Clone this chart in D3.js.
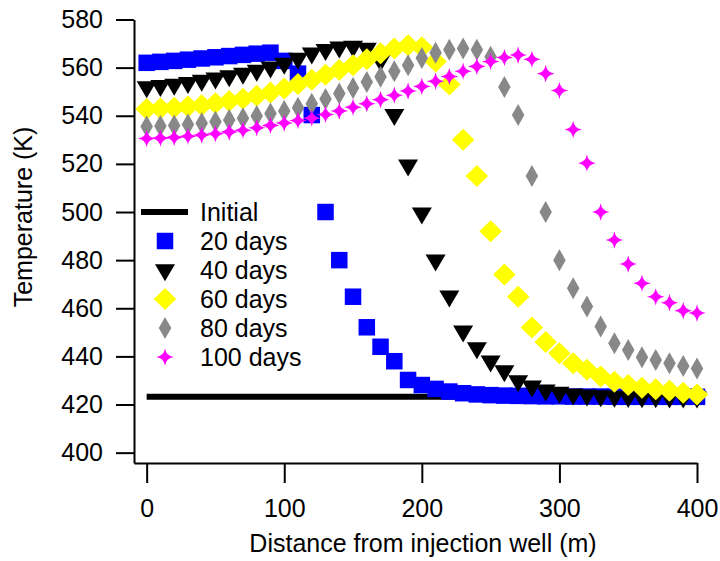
<!DOCTYPE html>
<html>
<head>
<meta charset="utf-8">
<script src="https://cdn.jsdelivr.net/npm/d3@7"></script>
<style>
  html, body { margin: 0; padding: 0; background: #fff; }
  svg { display: block; font-family: "Liberation Sans", Arial, sans-serif; }
</style>
</head>
<body>
<svg id="chart" width="720" height="561"></svg>
<script>
// Distance from the injection well (m)
const distance = [0, 10, 20, 30, 40, 50, 60, 70, 80, 90, 100, 110, 120, 130, 140, 150, 160, 170, 180, 190, 200,
  210, 220, 230, 240, 250, 260, 270, 280, 290, 300, 310, 320, 330, 340, 350, 360, 370, 380, 390, 400];

// Initial reservoir temperature (K)
const initialTemp = 423.2;

// Temperature profiles (K) after each injection period
const temp20 = [562, 562.4, 562.8, 563.3, 563.8, 564.3, 564.8, 565.3, 565.8, 566.2, 562.8, 557.5, 540.3, 500, 480,
  464.8, 452.1, 444, 438, 430.2, 428.1, 426.5, 425.4, 424.7, 424.2, 423.9, 423.7, 423.6, 423.5, 423.4, 423.4,
  423.3, 423.3, 423.3, 423.2, 423.2, 423.2, 423.2, 423.2, 423.2, 423.2];
const temp40 = [552, 552.5, 553, 553.8, 554.7, 555.6, 556.6, 557.6, 558.8, 560.2, 561.8, 563.8, 566, 567.5, 568.5,
  568.8, 568, 563, 540.5, 519.5, 499.5, 480, 465, 450.5, 443.5, 438, 434, 429.8, 427.6, 426, 425,
  424.3, 423.9, 423.6, 423.4, 423.3, 423.2, 423.2, 423.1, 423.1, 423.1];
const temp60 = [542.8, 543, 543.3, 543.8, 544.4, 545.2, 546.1, 547.1, 548.3, 549.7, 551.3, 553.2, 555, 557, 559,
  561, 563.5, 566, 568, 569.3, 568.5, 562.5, 553, 530, 515, 492, 474, 464.8, 452, 446, 441.3,
  437.1, 434.4, 431.6, 429.5, 428.1, 427, 426.3, 425.7, 424.9, 424.2];
const temp80 = [535.5, 535.7, 536, 536.4, 536.9, 537.5, 538.2, 539, 539.9, 540.9, 542, 543.3, 545, 547, 549.2,
  551.5, 554, 556.2, 558.5, 561, 564, 566.2, 567.4, 568, 567.4, 564.5, 552, 540.3, 515, 500, 480,
  468.3, 460.7, 452.4, 445.5, 442.7, 439.6, 438.5, 437.1, 436, 435];
const temp100 = [530.5, 530.7, 531, 531.5, 532, 532.5, 533.3, 534, 535, 536, 537, 538, 539, 540.5, 542,
  543.5, 545, 546.7, 548.5, 550.3, 552.2, 554.3, 556.3, 558.5, 560.5, 562.5, 564.2, 565.2, 563.5, 557.5, 550.5,
  534.3, 520.3, 500, 488.4, 478.4, 470.4, 464.8, 462.3, 459, 458];

const xTicks = [0, 100, 200, 300, 400];
const yTicks = [400, 420, 440, 460, 480, 500, 520, 540, 560, 580];

const legendLabels = ["Initial", "20 days", "40 days", "60 days", "80 days", "100 days"];

// Marker shapes, each centred on the data point
function squarePath(s) {
  const h = s / 2;
  return `M${-h},${-h}H${h}V${h}H${-h}Z`;
}
function triangleDownPath(w, h) {
  // centroid at the origin
  return `M${-w / 2},${-h / 3}L${w / 2},${-h / 3}L0,${2 * h / 3}Z`;
}
function diamondPath(w, h) {
  return `M0,${-h / 2}L${w / 2},0L0,${h / 2}L${-w / 2},0Z`;
}
function starPath(r) {
  const c = 0.12 * r;
  return `M0,${-r}Q${c},${-c} ${r},0Q${c},${c} 0,${r}Q${-c},${c} ${-r},0Q${-c},${-c} 0,${-r}Z`;
}

const series = [
  { label: "20 days", values: temp20, color: "#0000ff", path: squarePath(16.5) },
  { label: "40 days", values: temp40, color: "#000000", path: triangleDownPath(20, 17) },
  { label: "60 days", values: temp60, color: "#ffff00", path: diamondPath(22.5, 22) },
  { label: "80 days", values: temp80, color: "#888888", path: diamondPath(12.5, 22) },
  { label: "100 days", values: temp100, color: "#ff00ff", path: starPath(8.8) }
];

const svg = d3.select("#chart");

const x = d3.scaleLinear().domain([-9.2, 400]).range([134, 697]);
const y = d3.scaleLinear().domain([395.7, 580]).range([463, 19.5]);

// Axes
const xAxis = svg.append("g")
  .attr("transform", `translate(0,${y(395.7)})`)
  .call(d3.axisBottom(x).tickValues(xTicks).tickSize(20).tickSizeOuter(0).tickPadding(16).tickFormat(d3.format("d")));
const yAxis = svg.append("g")
  .attr("transform", `translate(${x(-9.2)},0)`)
  .call(d3.axisLeft(y).tickValues(yTicks).tickSize(18).tickSizeOuter(0).tickPadding(13).tickFormat(d3.format("d")));

[xAxis, yAxis].forEach(g => {
  g.selectAll("path.domain").attr("stroke", "#000").attr("stroke-width", 2);
  g.selectAll(".tick line").attr("stroke", "#000").attr("stroke-width", 2);
  g.selectAll(".tick text").attr("fill", "#000").style("font-size", "25px");
});

// Axis titles
svg.append("text")
  .attr("x", 423).attr("y", 552)
  .attr("text-anchor", "middle")
  .style("font-size", "25px")
  .text("Distance from injection well (m)");
svg.append("text")
  .attr("transform", "translate(32,217) rotate(-90)")
  .attr("text-anchor", "middle")
  .style("font-size", "25px")
  .text("Temperature (K)");

// Initial temperature line
svg.append("line")
  .attr("x1", x(distance[0])).attr("x2", x(distance[distance.length - 1]))
  .attr("y1", y(initialTemp)).attr("y2", y(initialTemp))
  .attr("stroke", "#000").attr("stroke-width", 6);

// Profiles
series.forEach(s => {
  svg.append("g")
    .selectAll("path")
    .data(distance.map((d, i) => [d, s.values[i]]))
    .join("path")
    .attr("d", s.path)
    .attr("fill", s.color)
    .attr("transform", d => `translate(${x(d[0])},${y(d[1])})`);
});

// Legend
const legend = svg.append("g");
const rowY = [212, 241, 270, 299, 328, 357];
legend.append("line")
  .attr("x1", 141).attr("x2", 188)
  .attr("y1", rowY[0]).attr("y2", rowY[0])
  .attr("stroke", "#000").attr("stroke-width", 6);
series.forEach((s, i) => {
  legend.append("path")
    .attr("d", s.path)
    .attr("fill", s.color)
    .attr("transform", `translate(165,${rowY[i + 1]})`);
});
legend.selectAll("text")
  .data(legendLabels)
  .join("text")
  .attr("x", 200)
  .attr("y", (d, i) => rowY[i] + 9)
  .style("font-size", "25px")
  .attr("fill", "#000")
  .text(d => d);
</script>
</body>
</html>
